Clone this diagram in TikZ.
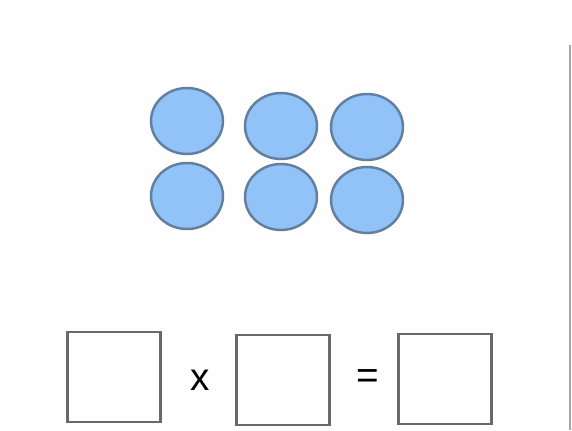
\documentclass[tikz,border=0pt]{standalone}
\usepackage{fontspec}
\setmainfont{Liberation Sans}
\usetikzlibrary{shapes.geometric}
\definecolor{dotfill}{RGB}{145,195,248}
\definecolor{dotline}{RGB}{98,128,158}
\definecolor{boxline}{RGB}{105,105,105}

\begin{document}
\begin{tikzpicture}[x=0.02cm,y=-0.02cm,
  dot/.style={ellipse,draw=dotline,line width=1.4pt,fill=dotfill,minimum width=1.44cm,minimum height=1.32cm,inner sep=0pt},
  ansbox/.style={draw=boxline,line width=1.6pt,minimum width=1.86cm,minimum height=1.8cm,inner sep=0pt},
  sym/.style={font=\fontsize{22}{24}\selectfont}]
  \useasboundingbox[fill=white] (0,0) rectangle (572,430);
  \fill[black!0.5] (8,8) rectangle (568,430);
  \draw[gray!70,line width=0.8pt] (570,45) -- (570,430); % right edge
  % 2 rows x 3 dots
  \node[dot] (d1) at (187,121){};
  \node[dot] (d2) at (281,126){};
  \node[dot] (d3) at (367,127){};
  \node[dot] (d4) at (187,196){};
  \node[dot] (d5) at (281,197){};
  \node[dot] (d6) at (367,200){};
  % equation boxes
  \node[ansbox] (b1) at (114,377){};
  \node[ansbox] (b2) at (283,380){};
  \node[ansbox] (b3) at (445,379){};
  \node[sym] (times) at (200,380){x};
  \node[sym] (equals) at (368,379){=};
\end{tikzpicture}
\end{document}
